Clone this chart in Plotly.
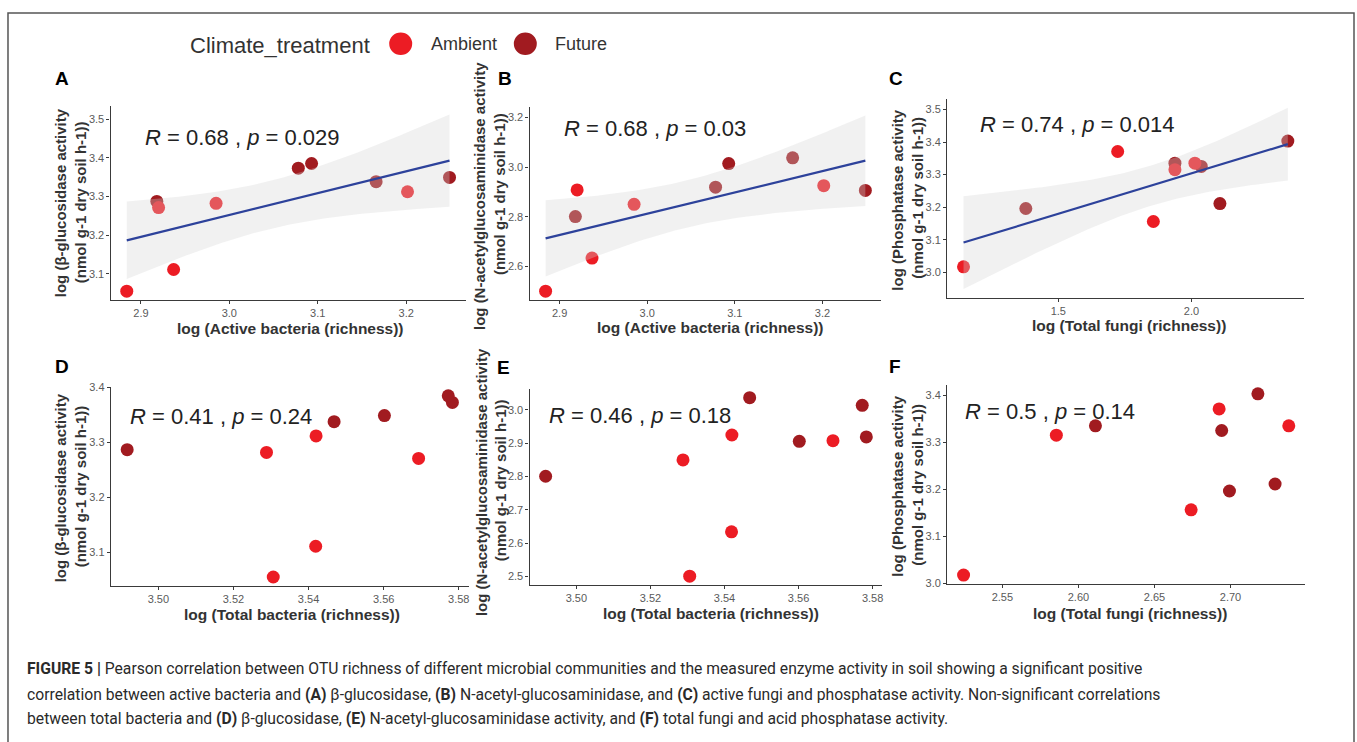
import numpy as np
import plotly.graph_objects as go

# ---------------- data ----------------
# bacteria samples (panels A, B, D, E)
bact_treatment = ["Ambient", "Ambient", "Future", "Ambient", "Ambient",
                  "Future", "Future", "Future", "Ambient", "Future"]
active_bacteria = [2.884, 2.937, 2.918, 2.920, 2.985, 3.078, 3.093, 3.166, 3.2015, 3.249]
total_bacteria = [3.5306, 3.5419, 3.4917, 3.5693, 3.5288, 3.5783, 3.5772, 3.5468, 3.5420, 3.5602]
glucosidase = [3.055, 3.111, 3.287, 3.271, 3.282, 3.373, 3.385, 3.338, 3.312, 3.349]
nag = [2.501, 2.634, 2.801, 2.908, 2.850, 2.919, 3.014, 3.037, 2.925, 2.906]

# fungi samples (panels C, F)
fungi_treatment = ["Ambient", "Ambient", "Ambient", "Ambient", "Ambient",
                   "Future", "Future", "Future", "Future", "Future"]
fungi_c = [1.144, 1.723, 1.857, 1.938, 2.013, 1.378, 1.938, 2.037, 2.107, 2.362]
fungi_total = [2.5245, 2.6925, 2.6741, 2.5855, 2.7383, 2.6993, 2.6112, 2.6942, 2.7293, 2.718]
phosphatase = [3.017, 3.371, 3.156, 3.315, 3.335, 3.196, 3.335, 3.325, 3.211, 3.403]

treatments = ["Future", "Ambient"]
r_labels = ["<i>R</i> = 0.68 , <i>p</i> = 0.029", "<i>R</i> = 0.68 , <i>p</i> = 0.03",
            "<i>R</i> = 0.74 , <i>p</i> = 0.014", "<i>R</i> = 0.41 , <i>p</i> = 0.24",
            "<i>R</i> = 0.46 , <i>p</i> = 0.18", "<i>R</i> = 0.5 , <i>p</i> = 0.14"]
x_titles = ["log (Active bacteria (richness))", "log (Active bacteria (richness))",
            "log (Total fungi (richness))", "log (Total bacteria (richness))",
            "log (Total bacteria (richness))", "log (Total fungi (richness))"]
y_title1 = ["log (β-glucosidase activity", "log (N-acetylglucosaminidase activity",
            "log (Phosphatase activity", "log (β-glucosidase activity",
            "log (N-acetylglucosaminidase activity", "log (Phosphatase activity"]
y_title2 = "(nmol g-1 dry soil h-1))"
panel_letters = ["A", "B", "C", "D", "E", "F"]

# ---------------- styling / layout ----------------
W, H = 1357, 742
COL = {"Ambient": "#ec1c24", "Future": "#a11b20"}
FONT = "Liberation Sans, Arial, sans-serif"


def fx(p):
    return p / W


def fy(p):
    return 1 - p / H


panels = [
    dict(x=active_bacteria, y=glucosidase, trt=bact_treatment, fit=True,
         dom=(110.7, 466, 102, 299), xd=0.1, yd=0.1, xf=".1f", yf=".1f",
         lab=(62, 75), rp=(143, 134), xt=(291, 328), yt=((60, 200), (80, 200))),
    dict(x=active_bacteria, y=nag, trt=bact_treatment, fit=True,
         dom=(530, 882, 103, 299), xd=0.1, yd=0.2, xf=".1f", yf=".1f",
         lab=(505, 75), rp=(562, 125), xt=(711, 327), yt=((480, 194), (500, 192))),
    dict(x=fungi_c, y=phosphatase, trt=fungi_treatment, fit=True,
         dom=(948, 1305, 95, 297), xd=0.5, yd=0.1, xf=".1f", yf=".1f",
         lab=(897, 74), rp=(979, 121), xt=(1130, 325), yt=((898, 197), (918, 195))),
    dict(x=total_bacteria, y=glucosidase, trt=bact_treatment, fit=False,
         dom=(111, 469, 387, 589), xd=0.02, yd=0.1, xf=".2f", yf=".1f",
         lab=(62, 366), rp=(128, 417), xt=(292.5, 618), yt=((60, 489), (80, 488))),
    dict(x=total_bacteria, y=nag, trt=bact_treatment, fit=False,
         dom=(530, 883, 389, 588), xd=0.02, yd=0.1, xf=".2f", yf=".1f",
         lab=(504, 367), rp=(547, 416), xt=(712, 617), yt=((482, 484), (501, 482))),
    dict(x=fungi_total, y=phosphatase, trt=fungi_treatment, fit=False,
         dom=(948, 1306, 385, 587), xd=0.05, yd=0.1, xf=".2f", yf=".1f",
         lab=(896, 366), rp=(964, 412), xt=(1131, 617), yt=((898, 487), (918, 486))),
]


def lm_band(x, y, n=100):
    x = np.asarray(x, float)
    y = np.asarray(y, float)
    b1, b0 = np.polyfit(x, y, 1)
    xs = np.linspace(x.min(), x.max(), n)
    yhat = b0 + b1 * xs
    resid = y - (b0 + b1 * x)
    s = np.sqrt(np.sum(resid ** 2) / (len(x) - 2))
    sxx = np.sum((x - x.mean()) ** 2)
    se = s * np.sqrt(1 / len(x) + (xs - x.mean()) ** 2 / sxx)
    t = 2.306  # t(0.975, df = 8) for n = 10
    return xs, yhat, yhat - t * se, yhat + t * se


def expand(lo, hi, f=0.05):
    d = hi - lo
    return [lo - f * d, hi + f * d]


fig = go.Figure()
annotations = []
shapes = []

for i, p in enumerate(panels):
    n = i + 1
    xa = "x" if n == 1 else f"x{n}"
    ya = "y" if n == 1 else f"y{n}"
    xs_all = np.asarray(p["x"], float)
    ys_all = np.asarray(p["y"], float)
    trt = np.asarray(p["trt"])

    for tname in treatments:
        m = trt == tname
        fig.add_trace(go.Scatter(
            x=xs_all[m], y=ys_all[m], mode="markers", name=tname,
            legendgroup=tname, showlegend=False, xaxis=xa, yaxis=ya,
            marker=dict(size=13, color=COL[tname], line=dict(width=0)),
            cliponaxis=False))

    ylo, yhi = ys_all.min(), ys_all.max()
    if p["fit"]:
        gx, gy, lo, hi = lm_band(xs_all, ys_all)
        ylo, yhi = min(ylo, lo.min()), max(yhi, hi.max())
        fig.add_trace(go.Scatter(x=gx, y=lo, mode="lines", line=dict(width=0),
                                 hoverinfo="skip", showlegend=False, xaxis=xa, yaxis=ya))
        fig.add_trace(go.Scatter(x=gx, y=hi, mode="lines", line=dict(width=0),
                                 fill="tonexty", fillcolor="rgba(212,212,212,0.32)",
                                 hoverinfo="skip", showlegend=False, xaxis=xa, yaxis=ya))
        fig.add_trace(go.Scatter(x=gx, y=gy, mode="lines",
                                 line=dict(color="#2d429b", width=2.2),
                                 hoverinfo="skip", showlegend=False, xaxis=xa, yaxis=ya))

    x0, x1, y0, y1 = p["dom"]
    axcommon = dict(showline=True, linecolor="#3a3a3a", linewidth=1.4, ticks="outside",
                    ticklen=3, tickwidth=1, tickcolor="#3a3a3a", showgrid=False,
                    zeroline=False, tick0=0,
                    tickfont=dict(family=FONT, size=11, color="#5a5a5a"))
    fig.layout[("xaxis" if n == 1 else f"xaxis{n}")] = dict(
        domain=[fx(x0), fx(x1)], anchor=ya, range=expand(xs_all.min(), xs_all.max()),
        dtick=p["xd"], tickformat=p["xf"], **axcommon)
    fig.layout[("yaxis" if n == 1 else f"yaxis{n}")] = dict(
        domain=[fy(y1), fy(y0)], anchor=xa, range=expand(ylo, yhi),
        dtick=p["yd"], tickformat=p["yf"], **axcommon)

    # panel letter
    annotations.append(dict(text=f"<b>{panel_letters[i]}</b>", x=fx(p["lab"][0]), y=fy(p["lab"][1]),
                            xref="paper", yref="paper", showarrow=False, xanchor="center",
                            yanchor="middle", font=dict(family=FONT, size=19, color="#000")))
    # R / p label
    annotations.append(dict(text=r_labels[i], x=fx(p["rp"][0]), y=fy(p["rp"][1]),
                            xref="paper", yref="paper", showarrow=False, xanchor="left",
                            yanchor="middle", font=dict(family=FONT, size=22, color="#222")))
    # x title
    annotations.append(dict(text=f"<b>{x_titles[i]}</b>", x=fx(p["xt"][0]), y=fy(p["xt"][1]),
                            xref="paper", yref="paper", showarrow=False, xanchor="center",
                            yanchor="middle", font=dict(family=FONT, size=15.5, color="#333")))
    # y title (two lines)
    for txt, (tx, ty) in zip([y_title1[i], y_title2], p["yt"]):
        annotations.append(dict(text=f"<b>{txt}</b>", x=fx(tx), y=fy(ty), textangle=-90,
                                xref="paper", yref="paper", showarrow=False, xanchor="center",
                                yanchor="middle", font=dict(family=FONT, size=15, color="#333")))

# legend (drawn manually to match the large key symbols)
annotations.append(dict(text="Climate_treatment", x=fx(188), y=fy(41), xref="paper", yref="paper",
                        showarrow=False, xanchor="left", yanchor="middle",
                        font=dict(family=FONT, size=22, color="#333")))
for tname, cx, tx in [("Ambient", 401, 429), ("Future", 525.7, 553)]:
    r = 11.5
    shapes.append(dict(type="circle", xref="paper", yref="paper",
                       x0=fx(cx - r), x1=fx(cx + r), y0=fy(39.3 + r), y1=fy(39.3 - r),
                       fillcolor=COL[tname], line=dict(width=0)))
    annotations.append(dict(text=tname, x=fx(tx), y=fy(39.5), xref="paper", yref="paper",
                            showarrow=False, xanchor="left", yanchor="middle",
                            font=dict(family=FONT, size=18, color="#333")))

# figure caption
caption = [
    "<b>FIGURE 5 |</b> Pearson correlation between OTU richness of different microbial communities and the measured enzyme activity in soil showing a significant positive",
    "correlation between active bacteria and <b>(A)</b> β-glucosidase, <b>(B)</b> N-acetyl-glucosaminidase, and <b>(C)</b> active fungi and phosphatase activity. Non-significant correlations",
    "between total bacteria and <b>(D)</b> β-glucosidase, <b>(E)</b> N-acetyl-glucosaminidase activity, and <b>(F)</b> total fungi and acid phosphatase activity.",
]
for line, cy in zip(caption, [673, 699, 723]):
    annotations.append(dict(text=line, x=fx(25), y=fy(cy), xref="paper", yref="paper",
                            showarrow=False, xanchor="left", yanchor="middle",
                            font=dict(family="Roboto, sans-serif", size=15.7, color="#2a2a2a")))

# outer frame
shapes.append(dict(type="rect", xref="paper", yref="paper", x0=fx(8), x1=fx(1355),
                   y0=fy(760), y1=fy(8), line=dict(color="#555", width=1.5),
                   fillcolor="rgba(0,0,0,0)", layer="below"))

fig.update_layout(width=W, height=H, margin=dict(l=0, r=0, t=0, b=0),
                  paper_bgcolor="white", plot_bgcolor="white", showlegend=False,
                  annotations=annotations, shapes=shapes, hovermode="closest")

fig.write_html("out.html", config={"displayModeBar": False},
               post_script="document.body.style.margin='0';document.body.style.overflow='hidden';")
